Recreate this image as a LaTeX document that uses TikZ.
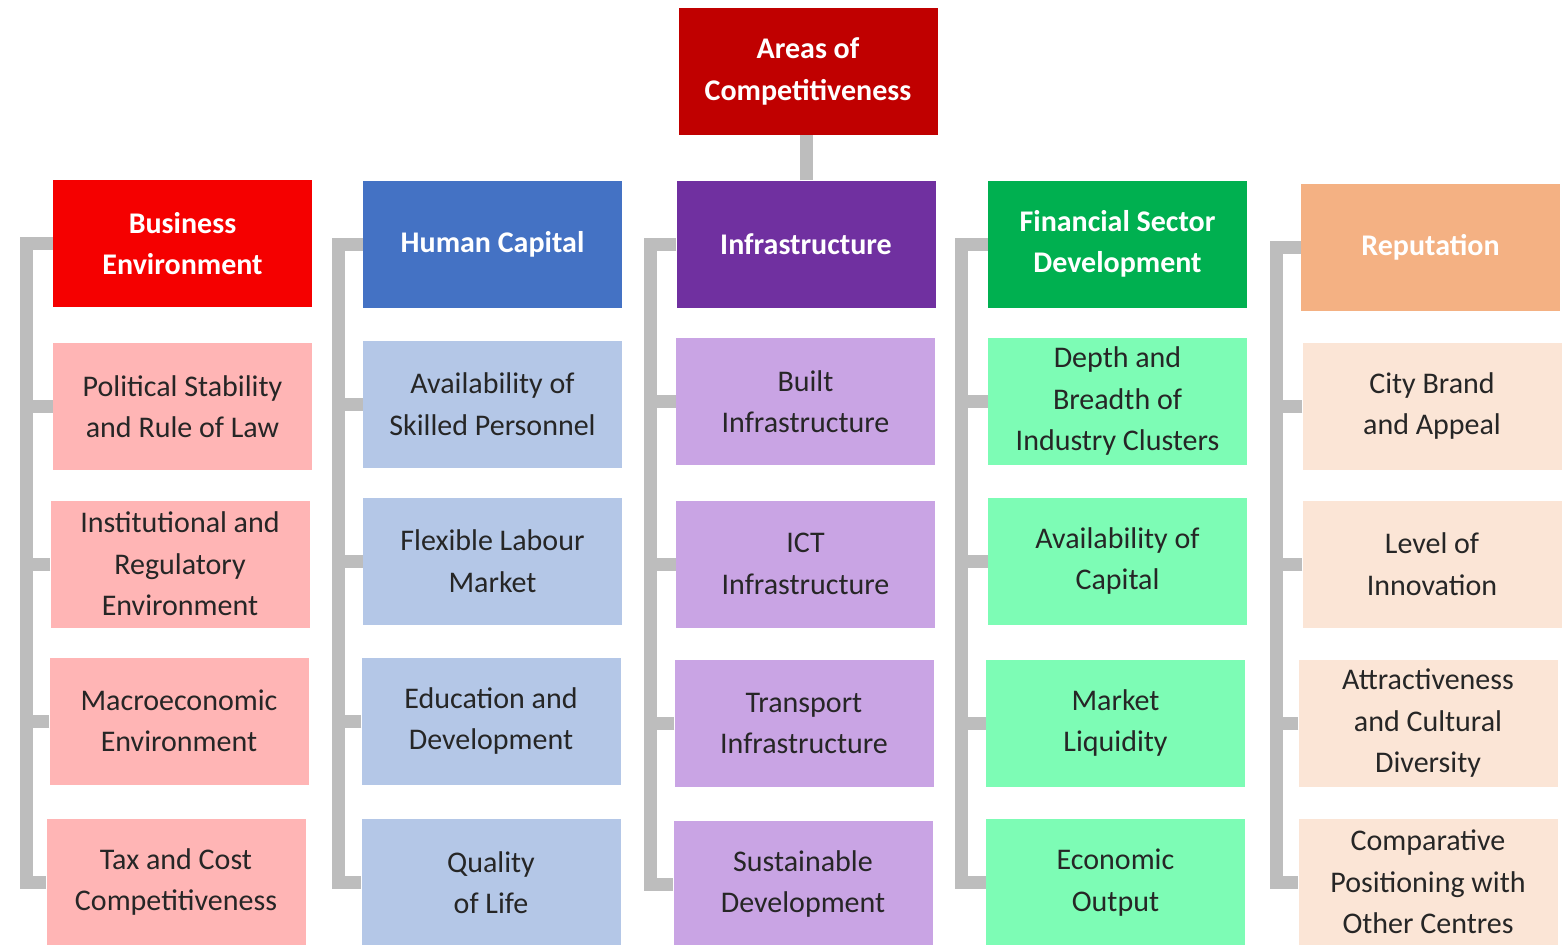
\documentclass[tikz,border=0pt]{standalone}
\usepackage{fontspec}
\setmainfont{Carlito}
\definecolor{topred}{HTML}{C00000}
\definecolor{bered}{HTML}{F50000}
\definecolor{bepink}{HTML}{FFB5B5}
\definecolor{hcblue}{HTML}{4472C4}
\definecolor{hclight}{HTML}{B4C7E7}
\definecolor{infpurple}{HTML}{7030A0}
\definecolor{inflight}{HTML}{C9A4E4}
\definecolor{fingreen}{HTML}{00B050}
\definecolor{finlight}{HTML}{7DFCB5}
\definecolor{reporange}{HTML}{F4B183}
\definecolor{replight}{HTML}{FBE5D6}
\definecolor{linkgray}{HTML}{BDBDBD}
\definecolor{darktext}{HTML}{262626}
\begin{document}
\begin{tikzpicture}[x=1pt,y=-1pt,
  box/.style={minimum width=259pt, minimum height=127pt, inner sep=0pt, align=center,
    font=\fontsize{30}{41.5}\selectfont},
  head/.style={box, text=white, font=\bfseries\fontsize{30}{41.5}\selectfont},
  item/.style={box, text=darktext},
  link/.style={draw=linkgray, line width=13pt, line join=miter},
  stub/.style={draw=linkgray, line width=13pt}]
\useasboundingbox (0,0) rectangle (1567,945);
\fill[white] (0,0) rectangle (1567,945);

% top
\node[head, fill=topred] (top) at (808,71.5) {Areas of\\Competitiveness};

% column 1
\node[head, fill=bered] (h1) at (182.5,243.5) {Business\\Environment};
\node[item, fill=bepink] (a1) at (182.5,406.5) {Political Stability\\and Rule of Law};
\node[item, fill=bepink] (a2) at (180,564) {Institutional and\\Regulatory\\Environment};
\node[item, fill=bepink] (a3) at (179,721) {Macroeconomic\\Environment};
\node[item, fill=bepink] (a4) at (176,882) {Tax and Cost\\Competitiveness};

% column 2
\node[head, fill=hcblue] (h2) at (492.5,244) {Human Capital};
\node[item, fill=hclight] (b1) at (492.5,404) {Availability of\\Skilled Personnel};
\node[item, fill=hclight] (b2) at (492.5,561) {Flexible Labour\\Market};
\node[item, fill=hclight] (b3) at (491,721) {Education and\\Development};
\node[item, fill=hclight] (b4) at (491,882.5) {Quality\\of Life};

% column 3
\node[head, fill=infpurple] (h3) at (806,244) {Infrastructure};
\node[item, fill=inflight] (c1) at (805.5,401.5) {Built\\Infrastructure};
\node[item, fill=inflight] (c2) at (805.5,564) {ICT\\Infrastructure};
\node[item, fill=inflight] (c3) at (804,723.5) {Transport\\Infrastructure};
\node[item, fill=inflight] (c4) at (803,884) {Sustainable\\Development};

% column 4
\node[head, fill=fingreen] (h4) at (1117.5,244) {Financial Sector\\Development};
\node[item, fill=finlight] (d1) at (1117.5,401) {Depth and\\Breadth of\\Industry Clusters};
\node[item, fill=finlight] (d2) at (1117.5,561) {Availability of\\Capital};
\node[item, fill=finlight] (d3) at (1115.5,723) {Market\\Liquidity};
\node[item, fill=finlight] (d4) at (1115.5,882.5) {Economic\\Output};

% column 5
\node[head, fill=reporange] (h5) at (1430.5,247) {Reputation};
\node[item, fill=replight] (e1) at (1432,406) {City Brand\\and Appeal};
\node[item, fill=replight] (e2) at (1432,564) {Level of\\Innovation};
\node[item, fill=replight] (e3) at (1428,723.5) {Attractiveness\\and Cultural\\Diversity};
\node[item, fill=replight] (e4) at (1428,882) {Comparative\\Positioning with\\Other Centres};

% connectors
\draw[stub] (h3.north) -- (h3.north |- top.south);
\foreach \h/\p/\off in {h1/a/26, h2/b/24, h3/c/26, h4/d/26, h5/e/24}{
  \coordinate (v\h) at ([xshift=-\off pt]\h.west);
  \draw[link] (\h.west) -- (v\h) |- (\p4.west);
  \foreach \k in {1,2,3}{
    \draw[stub] (\p\k.west) -- (\p\k.west -| v\h);
  }
}
\end{tikzpicture}
\end{document}
